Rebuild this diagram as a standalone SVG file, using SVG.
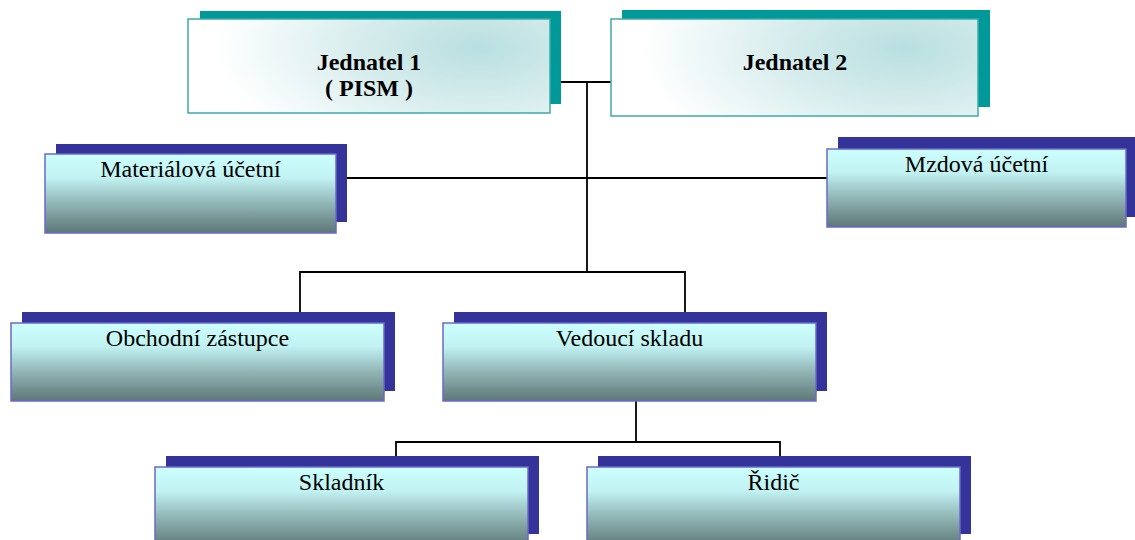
<svg xmlns="http://www.w3.org/2000/svg" width="1135" height="540" viewBox="0 0 1135 540">
<defs>
<radialGradient id="gTop" cx="0.8" cy="0.3" r="0.72" fx="0.8" fy="0.3" gradientTransform="translate(0.8,0.3) scale(1,1.8) translate(-0.8,-0.3)">
<stop offset="0" stop-color="#b9dfe0"/>
<stop offset="0.5" stop-color="#daeeee"/>
<stop offset="1" stop-color="#ffffff"/>
</radialGradient>
<linearGradient id="gBox" x1="0" y1="0" x2="0" y2="1">
<stop offset="0" stop-color="#ccffff"/>
<stop offset="0.3" stop-color="#c2f2f2"/>
<stop offset="0.6" stop-color="#95baba"/>
<stop offset="1" stop-color="#5e7676"/>
</linearGradient>
</defs>
<style>
.shT{fill:#009999}
.frT{fill:url(#gTop);stroke:#3fa9a9;stroke-width:1.5}
.shB{fill:#333399}
.frB{fill:url(#gBox);stroke:#6a6acc;stroke-width:1.5}
text{font-family:'Liberation Serif','Times New Roman',serif;font-size:24px;fill:#000;text-anchor:middle}
.tb{font-weight:bold}
.ln{fill:none;stroke:#000;stroke-width:1.8}
</style>
<g id="connectors">
<path class="ln" d="M550,82 H611"/>
<path class="ln" d="M587,82 V272"/>
<path class="ln" d="M336,178 H827"/>
<path class="ln" d="M300,312 V272 H685 V312"/>
<path class="ln" d="M636,401 V442"/>
<path class="ln" d="M396,456 V442 H780 V456"/>
</g>
<g id="jednatel1">
<rect class="shT" x="200" y="11" width="361" height="93"/>
<rect class="frT" x="188" y="19" width="362" height="94"/>
<text class="tb" x="369" y="70">Jednatel 1</text>
<text class="tb" x="369" y="96">( PISM )</text>
</g>
<g id="jednatel2">
<rect class="shT" x="622" y="10" width="368" height="97"/>
<rect class="frT" x="611" y="19" width="367" height="97"/>
<text class="tb" x="795" y="70">Jednatel 2</text>
</g>
<g id="materialova">
<rect class="shB" x="56" y="144" width="291" height="78"/>
<rect class="frB" x="45" y="154" width="291" height="79"/>
<text x="190.5" y="177">Materiálová účetní</text>
</g>
<g id="mzdova">
<rect class="shB" x="838" y="137" width="297" height="80"/>
<rect class="frB" x="827" y="149" width="299" height="78"/>
<text x="976.5" y="172">Mzdová účetní</text>
</g>
<g id="obchodni">
<rect class="shB" x="22" y="312" width="373" height="79"/>
<rect class="frB" x="11" y="323" width="373" height="78"/>
<text x="197.5" y="346">Obchodní zástupce</text>
</g>
<g id="vedouci">
<rect class="shB" x="454" y="312" width="373" height="79"/>
<rect class="frB" x="443" y="323" width="373" height="78"/>
<text x="629.5" y="346">Vedoucí skladu</text>
</g>
<g id="skladnik">
<rect class="shB" x="166" y="456" width="373" height="78"/>
<rect class="frB" x="155" y="467" width="373" height="80"/>
<text x="341.5" y="490">Skladník</text>
</g>
<g id="ridic">
<rect class="shB" x="598" y="456" width="373" height="78"/>
<rect class="frB" x="587" y="467" width="373" height="80"/>
<text x="773.5" y="490">Řidič</text>
</g>
</svg>
